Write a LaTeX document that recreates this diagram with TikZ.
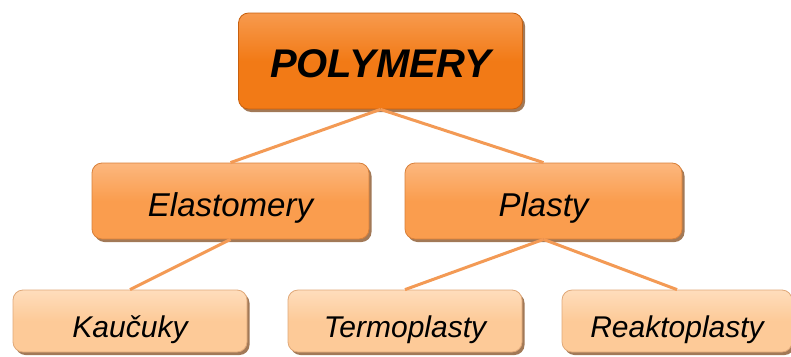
\documentclass[tikz,border=0pt]{standalone}
\usepackage{fontspec}
\setmainfont{Liberation Sans}
\usetikzlibrary{shadows}
\definecolor{topfill}{HTML}{F27A16}
\definecolor{toptop}{HTML}{F79A4E}
\definecolor{topdraw}{HTML}{C8600E}
\definecolor{midfill}{HTML}{FA9D4E}
\definecolor{midtop}{HTML}{FCB77E}
\definecolor{middraw}{HTML}{D8803A}
\definecolor{botfill}{HTML}{FDCA98}
\definecolor{bottop}{HTML}{FEDDBC}
\definecolor{botdraw}{HTML}{E0A878}
\definecolor{linkcol}{HTML}{F39A55}
\definecolor{shadowcol}{HTML}{7A4010}
\begin{document}
\begin{tikzpicture}[x=1pt,y=-1pt,
  boxbase/.style={rounded corners=10pt, inner sep=0pt, line width=0.8pt, text depth=0pt,
    drop shadow={shadow xshift=2.5pt, shadow yshift=-3pt, fill=shadowcol, opacity=0.7}},
  topbox/.style={boxbase, draw=topdraw, top color=toptop, bottom color=topfill,
    middle color=topfill, minimum width=284pt, minimum height=96pt, text height=32pt,
    font=\fontsize{40}{44}\selectfont\bfseries\itshape},
  midbox/.style={boxbase, draw=middraw, top color=midtop, bottom color=midfill,
    middle color=midfill, minimum width=277pt, minimum height=76pt, text height=30pt,
    font=\fontsize{33}{38}\selectfont\itshape},
  botbox/.style={boxbase, draw=botdraw, top color=bottop, bottom color=botfill,
    middle color=botfill, minimum width=234pt, minimum height=62pt, text height=32pt,
    font=\fontsize{30}{34}\selectfont\itshape},
  link/.style={draw=linkcol, line width=3pt}]
\useasboundingbox (0,0) rectangle (791,356);
\clip (0,0) rectangle (791,356);
\node[topbox] (poly) at (380.5,61) {POLYMERY};
\node[midbox] (elast) at (230.5,201) {Elastomery};
\node[midbox] (plast) at (543.5,201) {Plasty};
\node[botbox] (kauc) at (130,321) {Kaučuky};
\node[botbox] (termo) at (405,321) {Termoplasty};
\node[botbox, minimum width=230pt] (reakt) at (677,321) {Reaktoplasty};
\draw[link] (poly.south) -- (elast.north);
\draw[link] (poly.south) -- (plast.north);
\draw[link] (elast.south) -- (kauc.north);
\draw[link] (plast.south) -- (termo.north);
\draw[link] (plast.south) -- (reakt.north);
\end{tikzpicture}
\end{document}
